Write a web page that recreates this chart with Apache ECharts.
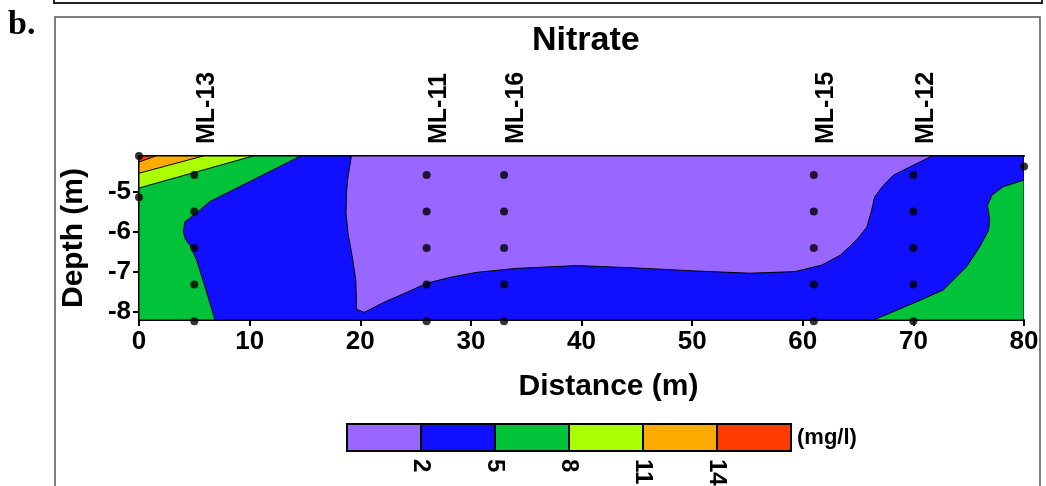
<!DOCTYPE html>
<html><head><meta charset="utf-8">
<script src="https://cdn.jsdelivr.net/npm/echarts@6/dist/echarts.min.js"></script>
<style>html,body{margin:0;padding:0;background:#fff}#c{width:1046px;height:486px}</style>
</head><body><div id="c"></div>
<script>
// ---------- data ----------
const stationNames = ['ML-13', 'ML-11', 'ML-16', 'ML-15', 'ML-12'];
const stationX = [5, 26, 33, 61, 70];
const sampleDepths = [-4.572, -5.486, -6.401, -7.315, -8.230];
const extraPoints = [[0, -4.1], [0, -5.13], [80, -4.36]];
const xTicks = [0, 10, 20, 30, 40, 50, 60, 70, 80];
const yTicks = [-8, -7, -6, -5];
const levelBreaks = [2, 5, 8, 11, 14];
const levelColors = ['#9966ff', '#1010ff', '#00c339', '#aaff00', '#ffaa00', '#ff3c00'];

// contour zones (distance m, depth m)
const zoneBlue = [[0, -4.1], [80, -4.1], [80, -8.2], [0, -8.2]];
const zoneGreenLeft = [[0, -4.1], [14.6, -4.1], [6.4, -5.24], [5.3, -5.5], [4.6, -5.65], [4.16, -5.74], [4.0, -5.99], [4.2, -6.18], [4.61, -6.33], [5.21, -6.70], [6.0, -7.4], [6.87, -8.2], [0, -8.2]];
const zoneLime = [[0, -4.1], [10.3, -4.1], [0, -4.9]];
const zoneOrange = [[0, -4.1], [5.8, -4.1], [0, -4.53]];
const zoneRed = [[0, -4.1], [1.5, -4.1], [0, -4.25]];
const zonePurple = [[19.2, -4.1], [18.9, -4.6], [18.77, -4.95], [18.71, -5.53], [18.9, -6.05], [19.22, -6.53], [19.6, -7.2], [19.67, -7.93], [20.34, -8.01], [22.2, -7.75], [24.2, -7.51], [26.0, -7.28], [28.2, -7.13], [30.5, -7.01], [34.1, -6.91], [39.6, -6.84], [45, -6.9], [50, -6.97], [55.2, -7.03], [59.3, -6.99], [61.7, -6.83], [63.4, -6.58], [65.0, -6.16], [65.8, -5.87], [66.2, -5.49], [66.5, -5.12], [67.3, -4.83], [68.2, -4.58], [70.0, -4.33], [71.7, -4.1]];
const zoneGreenRight = [[66.4, -8.2], [70.0, -7.78], [72.7, -7.45], [74.8, -6.87], [76.0, -6.37], [76.8, -5.95], [76.9, -5.7], [76.7, -5.33], [77.1, -5.08], [78.1, -4.87], [80, -4.7], [80, -8.2]];

// ---------- build ----------
const samplePoints = [];
stationX.forEach(x => sampleDepths.forEach(d => samplePoints.push([x, d])));
extraPoints.forEach(p => samplePoints.push(p));
const stationLabelPoints = stationX.map((x, i) => ({ value: [x, -4.1], name: stationNames[i] }));

function zone(points, color, z) {
  return {
    type: 'custom', coordinateSystem: 'cartesian2d', xAxisIndex: 0, yAxisIndex: 0,
    data: [[points[0][0], points[0][1]]], z: z, silent: true, clip: true,
    renderItem: (params, api) => ({
      type: 'polygon',
      shape: { points: points.map(p => api.coord(p)) },
      style: { fill: color, stroke: '#000', lineWidth: 1 }
    })
  };
}

const F = '"Liberation Sans", Arial, sans-serif';
const bold = { fontFamily: F, fontWeight: 'bold', color: '#000' };

const legendX0 = 347, legendW = 74, legendY = 424, legendH = 27;
const graphics = [
  { type: 'rect', shape: { x: 55, y: 17, width: 985, height: 500 }, style: { fill: 'none', stroke: '#555', lineWidth: 1.5 }, z: 1 },
  { type: 'rect', shape: { x: 54, y: -20, width: 988, height: 23 }, style: { fill: 'none', stroke: '#222', lineWidth: 2 }, z: 1 },
  { type: 'text', x: 8, y: 8, style: { text: 'b.', font: 'bold 34px "Liberation Serif", "Times New Roman", serif', fill: '#000' } }
];
levelColors.forEach((c, i) => {
  graphics.push({ type: 'rect', shape: { x: legendX0 + i * legendW, y: legendY, width: legendW, height: legendH }, style: { fill: c, stroke: '#000', lineWidth: 2 }, z: 5 });
});
levelBreaks.forEach((b, i) => {
  graphics.push({ type: 'text', x: legendX0 + (i + 1) * legendW, y: 459, rotation: -Math.PI / 2,
    style: { text: String(b), font: 'bold 24px ' + F, fill: '#000', align: 'left', verticalAlign: 'middle' }, z: 5 });
});
graphics.push({ type: 'text', x: legendX0 + 6 * legendW + 6, y: legendY + legendH / 2, style: { text: '(mg/l)', font: 'bold 22px ' + F, fill: '#000', verticalAlign: 'middle' }, z: 5 });

const option = {
  animation: false,
  backgroundColor: '#fff',
  title: { text: 'Nitrate', left: 527, top: 19, textStyle: { fontFamily: F, fontWeight: 'bold', fontSize: 34, color: '#000' } },
  grid: { left: 139, right: 22, top: 156, bottom: 166 },
  xAxis: [
    { type: 'value', position: 'bottom', min: 0, max: 80, interval: 10,
      axisLine: { show: true, lineStyle: { color: '#000', width: 2 } },
      axisTick: { show: true, length: 6, lineStyle: { color: '#000', width: 2 } },
      axisLabel: { ...bold, fontSize: 26, margin: 9, customValues: xTicks },
      splitLine: { show: false },
      name: 'Distance (m)', nameLocation: 'middle', nameGap: 52,
      nameTextStyle: { ...bold, fontSize: 30, padding: [0, 0, 0, 54] } },
    { type: 'value', position: 'top', min: 0, max: 80,
      axisLine: { show: true, lineStyle: { color: '#000', width: 2 } },
      axisTick: { show: false }, splitLine: { show: false }, axisLabel: { show: false } }
  ],
  yAxis: [
    { type: 'value', position: 'left', min: -8.2, max: -4.1,
      axisLine: { show: true, lineStyle: { color: '#000', width: 2 } },
      axisTick: { show: true, length: 6, customValues: yTicks, lineStyle: { color: '#000', width: 2 } },
      axisLabel: { ...bold, fontSize: 26, margin: 8, customValues: yTicks },
      splitLine: { show: false },
      name: 'Depth (m)', nameLocation: 'middle', nameGap: 50, nameRotate: 90, nameTextStyle: { ...bold, fontSize: 30 } },
    { type: 'value', position: 'right', min: -8.2, max: -4.1,
      axisLine: { show: true, lineStyle: { color: '#000', width: 2 } },
      axisTick: { show: true, length: 6, customValues: yTicks, lineStyle: { color: '#000', width: 2 } },
      axisLabel: { show: false }, splitLine: { show: false } }
  ],
  graphic: graphics,
  series: [
    zone(zoneBlue, levelColors[1], 1),
    zone(zoneGreenLeft, levelColors[2], 2),
    zone(zoneLime, levelColors[3], 3),
    zone(zoneOrange, levelColors[4], 4),
    zone(zoneRed, levelColors[5], 5),
    zone(zonePurple, levelColors[0], 6),
    zone(zoneGreenRight, levelColors[2], 7),
    { type: 'scatter', data: samplePoints, symbol: 'circle', symbolSize: 8, itemStyle: { color: '#000' }, z: 10, silent: true, clip: false },
    { type: 'scatter', data: stationLabelPoints, symbolSize: 0, z: 10, silent: true, clip: false,
      itemStyle: { color: '#000', opacity: 1 },
      label: { show: true, position: 'top', distance: 12, rotate: 90, align: 'left', verticalAlign: 'top',
        formatter: p => p.name, fontFamily: F, fontWeight: 'bold', fontSize: 25, color: '#000', opacity: 1,
        textBorderWidth: 0, offset: [0, 0] } }
  ]
};
echarts.init(document.getElementById('c')).setOption(option);
</script>
</body></html>
